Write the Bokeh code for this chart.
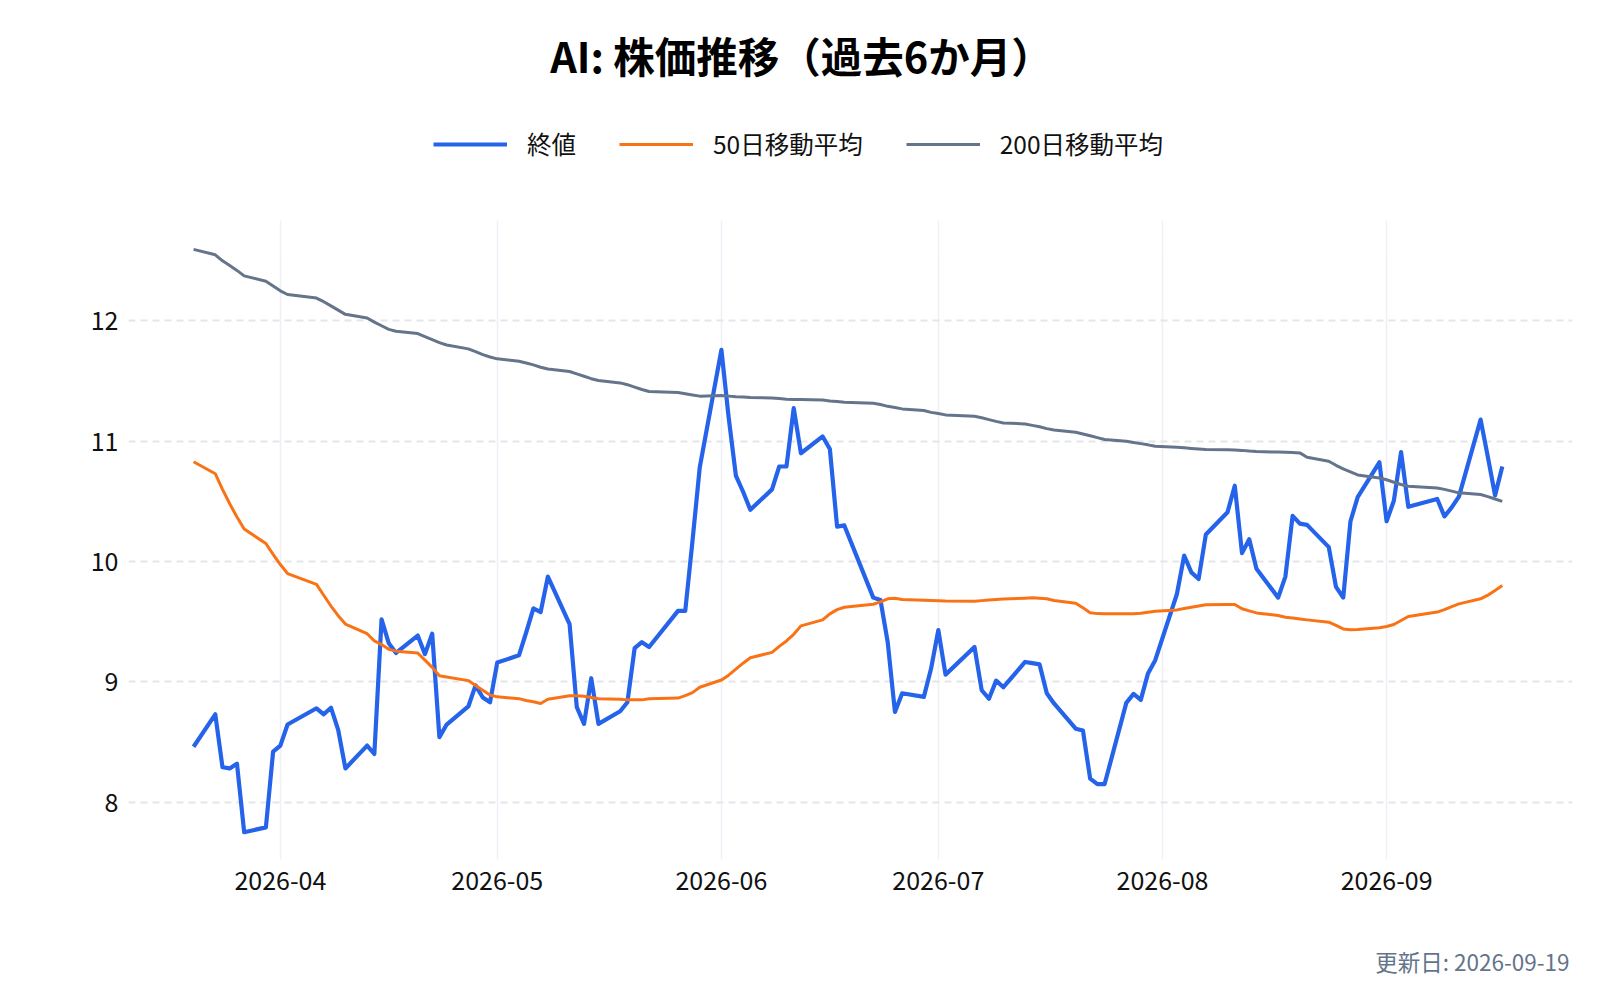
import pandas as pd
from bokeh.plotting import figure
from bokeh.layouts import column
from bokeh.models import Range1d, FixedTicker, DatetimeTickFormatter, Legend, LegendItem, Label, ColumnDataSource
from bokeh.embed import file_html
from bokeh.resources import INLINE

FONT = "Noto Sans CJK JP"

title_text = "AI: 株価推移（過去6か月）"
updated_text = "更新日: 2026-09-19"
series_names = ["終値", "50日移動平均", "200日移動平均"]
series_colors = ["#2563eb", "#f97316", "#64748b"]
series_widths = [4.2, 3, 3]

# trading days (US market holidays skipped)
dates = [
    "2026-03-20", "2026-03-23", "2026-03-24", "2026-03-25", "2026-03-26", "2026-03-27", "2026-03-30", "2026-03-31",
    "2026-04-01", "2026-04-02", "2026-04-06", "2026-04-07", "2026-04-08", "2026-04-09", "2026-04-10",
    "2026-04-13", "2026-04-14", "2026-04-15", "2026-04-16", "2026-04-17", "2026-04-20", "2026-04-21",
    "2026-04-22", "2026-04-23", "2026-04-24", "2026-04-27", "2026-04-28", "2026-04-29", "2026-04-30",
    "2026-05-01", "2026-05-04", "2026-05-05", "2026-05-06", "2026-05-07", "2026-05-08", "2026-05-11",
    "2026-05-12", "2026-05-13", "2026-05-14", "2026-05-15", "2026-05-18", "2026-05-19", "2026-05-20",
    "2026-05-21", "2026-05-22", "2026-05-26", "2026-05-27", "2026-05-28", "2026-05-29",
    "2026-06-01", "2026-06-02", "2026-06-03", "2026-06-04", "2026-06-05", "2026-06-08", "2026-06-09",
    "2026-06-10", "2026-06-11", "2026-06-12", "2026-06-15", "2026-06-16", "2026-06-17", "2026-06-18",
    "2026-06-22", "2026-06-23", "2026-06-24", "2026-06-25", "2026-06-26", "2026-06-29", "2026-06-30",
    "2026-07-01", "2026-07-02", "2026-07-06", "2026-07-07", "2026-07-08", "2026-07-09", "2026-07-10",
    "2026-07-13", "2026-07-14", "2026-07-15", "2026-07-16", "2026-07-17", "2026-07-20", "2026-07-21",
    "2026-07-22", "2026-07-23", "2026-07-24", "2026-07-27", "2026-07-28", "2026-07-29", "2026-07-30",
    "2026-07-31",
    "2026-08-03", "2026-08-04", "2026-08-05", "2026-08-06", "2026-08-07", "2026-08-10", "2026-08-11",
    "2026-08-12", "2026-08-13", "2026-08-14", "2026-08-17", "2026-08-18", "2026-08-19", "2026-08-20",
    "2026-08-21", "2026-08-24", "2026-08-25", "2026-08-26", "2026-08-27", "2026-08-28", "2026-08-31",
    "2026-09-01", "2026-09-02", "2026-09-03", "2026-09-04", "2026-09-08", "2026-09-09", "2026-09-10",
    "2026-09-11", "2026-09-14", "2026-09-15", "2026-09-16", "2026-09-17",
]

close = [
    8.46, 8.73, 8.29, 8.28, 8.32, 7.75, 7.79, 8.42,
    8.47, 8.645, 8.78, 8.73, 8.785, 8.60, 8.28, 8.47, 8.40, 9.52, 9.32, 9.24, 9.385, 9.23,
    9.40, 8.54, 8.645, 8.795, 8.97, 8.87, 8.83,
    9.16, 9.22, 9.41, 9.61, 9.58, 9.875, 9.48, 8.79, 8.65, 9.03, 8.65, 8.755, 8.83, 9.28,
    9.33, 9.29, 9.59, 9.59, 10.17, 10.78,
    11.76, 11.20, 10.715, 10.58, 10.43, 10.60, 10.79, 10.79, 11.275, 10.90, 11.04, 10.935, 10.29, 10.30,
    9.70, 9.68, 9.33, 8.75, 8.905, 8.875, 9.11,
    9.43, 9.06, 9.29, 8.93, 8.86, 9.01, 8.955, 9.165, 9.155, 9.145, 8.905, 8.82, 8.61, 8.595,
    8.195, 8.15, 8.15, 8.825, 8.90, 8.85, 9.07, 9.18,
    9.73, 10.05, 9.91, 9.855, 10.225, 10.41, 10.63, 10.07, 10.185, 9.94, 9.70, 9.875, 10.38, 10.315,
    10.305, 10.12, 9.79, 9.70, 10.335, 10.535, 10.825,
    10.335, 10.505, 10.91, 10.455, 10.52, 10.375, 10.45, 10.54, 11.18, 10.87, 10.55, 10.79,
]

ma50 = [
    10.83, 10.73, 10.60, 10.48, 10.37, 10.27, 10.15, 10.06,
    9.975, 9.90, 9.81, 9.72, 9.63, 9.55, 9.48, 9.40, 9.34, 9.31, 9.27, 9.255, 9.24, 9.18,
    9.12, 9.05, 9.04, 9.01, 8.97, 8.93, 8.89,
    8.875, 8.86, 8.845, 8.835, 8.82, 8.855, 8.885, 8.885, 8.88, 8.87, 8.86, 8.855, 8.85, 8.85,
    8.85, 8.86, 8.865, 8.885, 8.91, 8.955,
    9.015, 9.055, 9.105, 9.155, 9.20, 9.245, 9.295, 9.34, 9.395, 9.465, 9.515, 9.565, 9.60, 9.62,
    9.645, 9.665, 9.69, 9.695, 9.685, 9.678, 9.676,
    9.674, 9.672, 9.67, 9.675, 9.68, 9.684, 9.688, 9.695, 9.698, 9.694, 9.69, 9.676, 9.654, 9.615,
    9.575, 9.567, 9.565, 9.565, 9.565, 9.57, 9.578, 9.587,
    9.598, 9.61, 9.62, 9.63, 9.64, 9.642, 9.643, 9.607, 9.59, 9.573, 9.551, 9.537, 9.53, 9.522,
    9.515, 9.496, 9.47, 9.44, 9.432, 9.435, 9.449,
    9.46, 9.476, 9.51, 9.543, 9.58, 9.60, 9.625, 9.648, 9.69, 9.72, 9.76, 9.80,
]

ma200 = [
    12.595, 12.55, 12.50, 12.46, 12.42, 12.375, 12.33, 12.29,
    12.25, 12.22, 12.19, 12.16, 12.125, 12.09, 12.055, 12.025, 11.99, 11.96, 11.93, 11.915, 11.895, 11.87,
    11.845, 11.82, 11.80, 11.768, 11.745, 11.72, 11.70,
    11.685, 11.665, 11.65, 11.635, 11.615, 11.60, 11.58, 11.56, 11.54, 11.52, 11.505, 11.485, 11.47, 11.45,
    11.43, 11.413, 11.405, 11.395, 11.385, 11.375,
    11.38, 11.375, 11.37, 11.367, 11.363, 11.36, 11.355, 11.35, 11.348, 11.346, 11.343, 11.335, 11.33, 11.325,
    11.316, 11.305, 11.29, 11.28, 11.269, 11.255, 11.24,
    11.23, 11.219, 11.208, 11.195, 11.18, 11.165, 11.152, 11.144, 11.132, 11.12, 11.105, 11.094, 11.075, 11.06,
    11.045, 11.03, 11.014, 11.0, 10.99, 10.98, 10.97, 10.958,
    10.95, 10.945, 10.94, 10.935, 10.931, 10.93, 10.928, 10.924, 10.918, 10.914, 10.91, 10.908, 10.906, 10.903,
    10.867, 10.834, 10.80, 10.77, 10.745, 10.72, 10.695,
    10.68, 10.659, 10.64, 10.626, 10.612, 10.60, 10.585, 10.571, 10.557, 10.54, 10.52, 10.50,
]

y_ticks = [8, 9, 10, 11, 12]
month_ticks = ["2026-04-01", "2026-05-01", "2026-06-01", "2026-07-01", "2026-08-01", "2026-09-01"]

src = ColumnDataSource(dict(date=pd.to_datetime(dates), close=close, ma50=ma50, ma200=ma200))

LEFT, RIGHT = 128, 28  # borders shared by all three strips (the column lines their frames up)


def blank(h):
    # strip without axes; labels inside its frame are not clipped
    f = figure(width=1600, height=h, x_range=Range1d(0, 1), y_range=Range1d(0, 1),
               x_axis_location=None, y_axis_location=None,
               min_border_left=LEFT, min_border_right=RIGHT, min_border_top=0, min_border_bottom=0,
               toolbar_location=None, output_backend="svg")
    f.outline_line_color = None
    f.grid.visible = False
    return f


# header: title + legend
head = blank(180)
head.add_layout(Label(x=801 - LEFT, y=126, x_units="screen", y_units="screen", text=title_text,
                      text_align="center", text_baseline="middle", text_font=FONT,
                      text_font_style="bold", text_font_size="41.5px", text_color="#000000"))
keys = []
for i in range(3):
    # legend keys only: a single NaN point draws nothing
    keys.append(head.line(x=[float("nan")], y=[float("nan")], line_color=series_colors[i],
                          line_width=series_widths[i]))
legend = Legend(items=[LegendItem(label=series_names[i], renderers=[keys[i]]) for i in range(3)],
                orientation="horizontal", location=(433 - LEFT, 19),
                glyph_width=74, glyph_height=26, label_standoff=20, spacing=43,
                padding=0, margin=0, border_line_color=None, background_fill_alpha=0,
                label_text_font=FONT, label_text_font_size="24.5px", label_text_color="#111111")
head.add_layout(legend)

# main chart
p = figure(width=1600, height=760, x_axis_type="datetime",
           x_range=Range1d(pd.Timestamp("2026-03-11"), pd.Timestamp("2026-09-26 17:00")),
           y_range=Range1d(7.523, 12.835),
           output_backend="svg", toolbar_location=None,
           min_border_left=LEFT, min_border_right=RIGHT, min_border_top=40, min_border_bottom=81)
p.outline_line_color = None

p.line("date", "close", source=src, line_color=series_colors[0], line_width=series_widths[0], line_join="round")
p.line("date", "ma50", source=src, line_color=series_colors[1], line_width=series_widths[1], line_join="round")
p.line("date", "ma200", source=src, line_color=series_colors[2], line_width=series_widths[2], line_join="round")

p.xaxis.ticker = FixedTicker(ticks=[pd.Timestamp(t).timestamp() * 1000 for t in month_ticks])
p.xaxis.formatter = DatetimeTickFormatter(days="%Y-%m", months="%Y-%m", years="%Y-%m")
p.yaxis.ticker = FixedTicker(ticks=y_ticks)
p.axis.axis_line_color = None
p.axis.major_tick_line_color = None
p.axis.minor_tick_line_color = None
p.axis.major_label_text_font = FONT
p.axis.major_label_text_font_size = "25px"
p.axis.major_label_text_color = "#111111"
p.yaxis.major_tick_out = 0
p.yaxis.major_label_standoff = 10
p.xaxis.major_label_standoff = 5

p.xgrid.grid_line_color = "#edf0f5"
p.xgrid.grid_line_width = 1.5
p.ygrid.grid_line_color = "#e3e5ea"
p.ygrid.grid_line_width = 2
p.ygrid.grid_line_dash = "7 5"

# footer
foot = blank(60)
foot.add_layout(Label(x=1569 - LEFT, y=40, x_units="screen", y_units="screen", text=updated_text,
                      text_align="right", text_baseline="middle", text_font=FONT,
                      text_font_size="22.5px", text_color="#64748b"))

page = column(head, p, foot, spacing=0)
open("out.html", "w", encoding="utf-8").write(file_html(page, INLINE))
